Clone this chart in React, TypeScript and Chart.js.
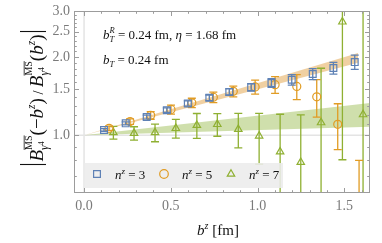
import React, { useEffect, useRef } from "react";
import { Chart, registerables } from "chart.js";
Chart.register(...registerables);

// ---- data ----
const bz3 = [0.115, 0.24, 0.361, 0.477, 0.598, 0.722, 0.837, 0.963, 1.08, 1.197, 1.318, 1.437, 1.56];
const ratio3 = [1.048, 1.111, 1.174, 1.248, 1.324, 1.392, 1.467, 1.528, 1.588, 1.634, 1.718, 1.811, 1.909];
const err3 = [0.012, 0.015, 0.02, 0.025, 0.03, 0.035, 0.04, 0.05, 0.06, 0.076, 0.083, 0.095, 0.12];

const bz5 = [0.144, 0.265, 0.384, 0.501, 0.621, 0.745, 0.86, 0.986, 1.101, 1.226, 1.341, 1.462, 1.585];
const ratio5 = [1.063, 1.128, 1.192, 1.256, 1.332, 1.399, 1.475, 1.533, 1.564, 1.54, 1.404, 1.101, 0.45];
const err5 = [0.02, 0.028, 0.04, 0.05, 0.055, 0.064, 0.07, 0.094, 0.115, 0.17, 0.23, 0.22, 0.35];

const bz7 = [0.169, 0.288, 0.409, 0.529, 0.65, 0.768, 0.889, 1.009, 1.13, 1.249, 1.366, 1.489, 1.608];
const ratio7 = [1.024, 1.018, 1.024, 1.063, 1.092, 1.101, 1.054, 0.994, 0.864, 0.787, 1.118, 2.725, 1.2];
const err7 = [0.057, 0.06, 0.08, 0.088, 0.12, 0.11, 0.16, 0.22, 0.34, 0.41, 0.69, 1.92, 6];

const bandOrangeX = [0, 1.579];
const bandOrangeUpper = [1, 2.07];
const bandOrangeLower = [1, 1.9];
const bandGreenX = [0, 1.648];
const bandGreenUpper = [1, 1.33];
const bandGreenLower = [1, 1.079];

const xMajorTicks = [0, 0.5, 1.0, 1.5];
const xTickLabels = ["0.0", "0.5", "1.0", "1.5"];
const yMajorTicks = [1.0, 1.5, 2.0, 2.5, 3.0];
const yTickLabels = ["1.0", "1.5", "2.0", "2.5", "3.0"];
const legendValues = ["3", "5", "7"];

const X_MIN = -0.058, X_MAX = 1.648, Y_MIN = 0.605, Y_MAX = 3.0;

const BLUE = "#5E81B5", ORANGE = "#E19C24", GREEN = "#8FB032";
const FONT = '"Liberation Serif", "Times New Roman", serif';

type Seg = { t?: string; s?: number; i?: boolean; dy?: number; ol?: boolean; stack?: Seg[][]; bar?: number };

function setFont(ctx: CanvasRenderingContext2D, s: number, i?: boolean) {
  ctx.font = `${i ? "italic " : ""}${s}px ${FONT}`;
}
function measure(ctx: CanvasRenderingContext2D, segs: Seg[]): number {
  let w = 0;
  for (const g of segs) {
    if (g.stack) w += Math.max(...g.stack.map((q) => measure(ctx, q)));
    else if (g.bar) w += g.bar;
    else { setFont(ctx, g.s || 13, g.i); w += ctx.measureText(g.t || "").width; }
  }
  return w;
}
function drawSegs(ctx: CanvasRenderingContext2D, segs: Seg[], x: number, y: number): number {
  for (const g of segs) {
    if (g.stack) {
      let m = 0;
      for (const q of g.stack) m = Math.max(m, drawSegs(ctx, q, x, y) - x);
      x += m;
    } else if (g.bar) {
      ctx.save();
      ctx.lineWidth = 1.1;
      ctx.beginPath();
      ctx.moveTo(x + g.bar / 2, y - 23);
      ctx.lineTo(x + g.bar / 2, y + 3);
      ctx.stroke();
      ctx.restore();
      x += g.bar;
    } else {
      const s = g.s || 13;
      setFont(ctx, s, g.i);
      const w = ctx.measureText(g.t || "").width;
      ctx.fillText(g.t || "", x, y + (g.dy || 0));
      if (g.ol) {
        ctx.save();
        ctx.lineWidth = 0.8;
        ctx.beginPath();
        const oy = y + (g.dy || 0) - s * 0.78;
        ctx.moveTo(x, oy);
        ctx.lineTo(x + w, oy);
        ctx.stroke();
        ctx.restore();
      }
      x += w;
    }
  }
  return x;
}

function drawMarker(ctx: CanvasRenderingContext2D, kind: string, x: number, y: number, color: string) {
  ctx.save();
  ctx.strokeStyle = color;
  ctx.lineWidth = 1.2;
  ctx.beginPath();
  if (kind === "rect") ctx.rect(x - 3.4, y - 3.4, 6.8, 6.8);
  else if (kind === "circle") ctx.arc(x, y, 4.3, 0, Math.PI * 2);
  else {
    const r = 4.3;
    ctx.moveTo(x, y - r);
    ctx.lineTo(x + r * 0.866, y + r * 0.5);
    ctx.lineTo(x - r * 0.866, y + r * 0.5);
    ctx.closePath();
  }
  ctx.stroke();
  ctx.restore();
}

const errSets: Record<number, { xs: number[]; ys: number[]; es: number[]; color: string }> = {
  0: { xs: bz3, ys: ratio3, es: err3, color: BLUE },
  1: { xs: bz5, ys: ratio5, es: err5, color: ORANGE },
  2: { xs: bz7, ys: ratio7, es: err7, color: GREEN },
};

const decorPlugin = {
  id: "decor",
  beforeDraw(chart: any) {
    const { ctx, chartArea: a, scales } = chart;
    const xs = scales.x, ys = scales.y;
    ctx.save();
    ctx.strokeStyle = "#e4e4e4";
    ctx.lineWidth = 1.5;
    ctx.beginPath();
    const x0 = xs.getPixelForValue(0);
    ctx.moveTo(x0, a.top); ctx.lineTo(x0, a.bottom);
    const y1 = ys.getPixelForValue(1);
    ctx.moveTo(a.left, y1); ctx.lineTo(a.right, y1);
    ctx.stroke();
    ctx.restore();
  },
  beforeDatasetDraw(chart: any, args: any) {
    const set = errSets[args.index];
    if (!set) return;
    const { ctx, chartArea: a, scales } = chart;
    ctx.save();
    ctx.beginPath();
    ctx.rect(a.left, a.top, a.right - a.left, a.bottom - a.top);
    ctx.clip();
    ctx.strokeStyle = set.color;
    ctx.lineWidth = 1.3;
    for (let i = 0; i < set.xs.length; i++) {
      const px = scales.x.getPixelForValue(set.xs[i]);
      const hi = set.ys[i] + set.es[i];
      const lo = Math.max(set.ys[i] - set.es[i], Y_MIN * 0.5);
      const pHi = scales.y.getPixelForValue(hi);
      const pLo = scales.y.getPixelForValue(lo);
      ctx.beginPath();
      ctx.moveTo(px, pHi); ctx.lineTo(px, pLo);
      ctx.moveTo(px - 4, pHi); ctx.lineTo(px + 4, pHi);
      ctx.moveTo(px - 4, pLo); ctx.lineTo(px + 4, pLo);
      ctx.stroke();
    }
    ctx.restore();
  },
  afterDraw(chart: any) {
    const { ctx, chartArea: a, scales } = chart;
    const xs = scales.x, ys = scales.y;
    ctx.save();
    // frame
    ctx.strokeStyle = "#9c9c9c";
    ctx.lineWidth = 1;
    ctx.strokeRect(a.left + 0.5, a.top + 0.5, a.right - a.left - 1, a.bottom - a.top - 1);
    ctx.beginPath();
    for (let k = 0; k <= 16; k++) {
      const v = k / 10;
      const major = k % 5 === 0;
      const len = major ? 5 : 2.8;
      const px = Math.round(xs.getPixelForValue(v)) + 0.5;
      ctx.moveTo(px, a.bottom); ctx.lineTo(px, a.bottom - len);
      ctx.moveTo(px, a.top); ctx.lineTo(px, a.top + len);
    }
    for (let k = 7; k <= 30; k++) {
      const v = k / 10;
      const major = k >= 10 && k % 5 === 0;
      const len = major ? 5 : 2.8;
      const py = Math.round(ys.getPixelForValue(v)) + 0.5;
      ctx.moveTo(a.left, py); ctx.lineTo(a.left + len, py);
      ctx.moveTo(a.right, py); ctx.lineTo(a.right - len, py);
    }
    ctx.stroke();
    // tick labels
    ctx.fillStyle = "#7a7a7a";
    setFont(ctx, 14);
    ctx.textBaseline = "middle";
    ctx.textAlign = "center";
    xMajorTicks.forEach((v, i) => ctx.fillText(xTickLabels[i], xs.getPixelForValue(v), 206));
    ctx.textAlign = "right";
    yMajorTicks.forEach((v, i) => ctx.fillText(yTickLabels[i], 70, ys.getPixelForValue(v)));
    ctx.textBaseline = "alphabetic";
    ctx.textAlign = "left";

    // annotations
    ctx.fillStyle = "#111";
    ctx.strokeStyle = "#111";
    const line1: Seg[] = [
      { t: "b", s: 13, i: true },
      { stack: [[{ t: "R", s: 8.5, i: true, dy: -6 }], [{ t: "T", s: 8.5, i: true, dy: 3 }]] },
      { t: " = 0.24 fm, ", s: 13 },
      { t: "η", s: 13, i: true },
      { t: " = 1.68 fm", s: 13 },
    ];
    drawSegs(ctx, line1, 103, 39);
    const line2: Seg[] = [
      { t: "b", s: 13, i: true },
      { t: "T", s: 8.5, i: true, dy: 3 },
      { t: " = 0.24 fm", s: 13 },
    ];
    drawSegs(ctx, line2, 103, 64);

    // x label
    const xl: Seg[] = [{ t: "b", s: 15, i: true }, { t: "z", s: 10, i: true, dy: -6 }, { t: " [fm]", s: 15 }];
    const xw = measure(ctx, xl);
    drawSegs(ctx, xl, 218 - xw / 2, 235);

    // y label (rotated)
    const Bsym = (): Seg[] => [
      { t: "B", s: 19, i: true },
      { stack: [[{ t: "MS", s: 10, dy: -11, ol: true }], [{ t: "γ", s: 11.5, i: true, dy: 5 }, { t: "4", s: 7.5, dy: 1 }]] },
    ];
    const yl: Seg[] = [
      { bar: 6 },
      ...Bsym(),
      { t: "(−", s: 19 },
      { t: "b", s: 19, i: true },
      { t: "z", s: 11.5, i: true, dy: -8 },
      { t: ")", s: 19 },
      { t: " / ", s: 14 },
      ...Bsym(),
      { t: "(", s: 19 },
      { t: "b", s: 19, i: true },
      { t: "z", s: 11.5, i: true, dy: -8 },
      { t: ")", s: 19 },
      { bar: 6 },
    ];
    const yw = measure(ctx, yl);
    ctx.save();
    ctx.translate(43, 98);
    ctx.rotate(-Math.PI / 2);
    drawSegs(ctx, yl, -yw / 2, 0);
    ctx.restore();

    // legend
    ctx.fillStyle = "rgba(236,236,236,0.88)";
    ctx.fillRect(84, 163, 199, 25);
    const kinds = ["rect", "circle", "triangle"];
    const cols = [BLUE, ORANGE, GREEN];
    const mx = [97, 164, 231];
    legendValues.forEach((lv, i) => {
      drawMarker(ctx, kinds[i], mx[i], 174, cols[i]);
      ctx.fillStyle = "#111";
      drawSegs(ctx, [{ t: "n", s: 13, i: true }, { t: "z", s: 9, i: true, dy: -5 }, { t: " = " + lv, s: 13 }], mx[i] + 18, 179);
    });
    ctx.restore();
  },
};

export default function App() {
  const ref = useRef<HTMLCanvasElement>(null);
  useEffect(() => {
    document.body.style.margin = "0";
    const canvas = ref.current!;
    const pts = (xs: number[], ys: number[]) => xs.map((x, i) => ({ x, y: ys[i] }));
    const chart = new Chart(canvas, {
      type: "scatter",
      data: {
        datasets: [
          {
            data: pts(bz3, ratio3), pointStyle: "rect", pointRadius: 4.8, borderColor: BLUE,
            backgroundColor: "rgba(255,255,255,0)", borderWidth: 1.2, order: 0, showLine: false,
          } as any,
          {
            data: pts(bz5, ratio5), pointStyle: "circle", pointRadius: 4, borderColor: ORANGE,
            backgroundColor: "rgba(255,255,255,0)", borderWidth: 1.2, order: 1, showLine: false,
          },
          {
            data: pts(bz7, ratio7), pointStyle: "triangle", pointRadius: 4.3, borderColor: GREEN,
            backgroundColor: "rgba(255,255,255,0)", borderWidth: 1.2, order: 2, showLine: false,
          },
          {
            type: "line", data: pts(bandOrangeX, bandOrangeUpper), borderWidth: 0, pointRadius: 0,
            borderColor: "rgba(0,0,0,0)", fill: false, order: 10,
          },
          {
            type: "line", data: pts(bandOrangeX, bandOrangeLower), borderWidth: 0, pointRadius: 0,
            borderColor: "rgba(0,0,0,0)", fill: "-1", backgroundColor: "rgba(228,170,85,0.55)", order: 10,
          },
          {
            type: "line", data: pts(bandGreenX, bandGreenUpper), borderWidth: 0, pointRadius: 0,
            borderColor: "rgba(0,0,0,0)", fill: false, order: 11,
          },
          {
            type: "line", data: pts(bandGreenX, bandGreenLower), borderWidth: 0, pointRadius: 0,
            borderColor: "rgba(0,0,0,0)", fill: "-1", backgroundColor: "rgba(160,192,90,0.5)", order: 11,
          },
        ] as any,
      },
      options: {
        animation: false,
        responsive: false,
        events: [],
        layout: { padding: { left: 74, top: 11, right: 12, bottom: 50 } },
        plugins: { legend: { display: false }, tooltip: { enabled: false } },
        scales: {
          x: { type: "linear", min: X_MIN, max: X_MAX, display: false },
          y: { type: "logarithmic", min: Y_MIN, max: Y_MAX, display: false },
        },
      },
      plugins: [decorPlugin],
    });
    return () => chart.destroy();
  }, []);
  return <canvas ref={ref} width={382} height={243} style={{ display: "block" }} />;
}
